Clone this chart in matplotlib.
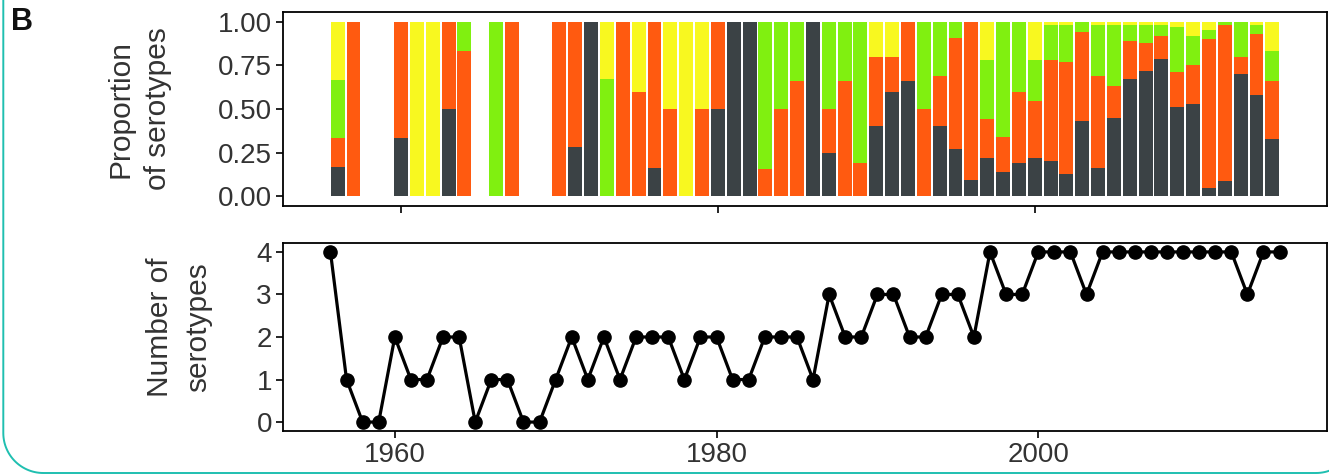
import matplotlib
matplotlib.use("Agg")
import matplotlib.pyplot as plt
from matplotlib.lines import Line2D
import numpy as np

plt.rcParams['font.family'] = ['Liberation Sans', 'DejaVu Sans']

years = list(range(1956, 2016))

# proportions per year: dark (bottom), orange, green, yellow (top)
dark = [1/6, 0, 0, 0, 1/3, 0, 0, 0.5, 0, 0,
        0, 0, 0, 0, 0, 0.28, 1, 0, 0, 0,
        0.16, 0, 0, 0, 0.5, 1, 1, 0, 0, 0,
        1, 0.25, 0, 0, 0.4, 0.6, 0.66, 0, 0.4, 0.27,
        0.095, 0.22, 0.14, 0.19, 0.22, 0.20, 0.13, 0.43, 0.16, 0.45,
        0.67, 0.72, 0.785, 0.51, 0.53, 0.05, 0.09, 0.70, 0.58, 0.33]
orange = [1/6, 1, 0, 0, 2/3, 0, 0, 0.5, 0.83, 0,
          0, 1, 0, 0, 1, 0.72, 0, 0, 1, 0.6,
          0.84, 0.5, 0, 0.5, 0.5, 0, 0, 0.155, 0.5, 0.66,
          0, 0.25, 0.66, 0.19, 0.4, 0.2, 0.34, 0.5, 0.29, 0.635,
          0.905, 0.22, 0.2, 0.41, 0.325, 0.58, 0.64, 0.51, 0.53, 0.18,
          0.22, 0.155, 0.135, 0.20, 0.22, 0.85, 0.89, 0.095, 0.35, 0.33]
green = [1/3, 0, 0, 0, 0, 0, 0, 0, 0.17, 0,
         1, 0, 0, 0, 0, 0, 0, 0.67, 0, 0,
         0, 0, 0, 0, 0, 0, 0, 0.845, 0.5, 0.34,
         0, 0.5, 0.34, 0.81, 0, 0, 0, 0.5, 0.31, 0.095,
         0, 0.34, 0.66, 0.4, 0.235, 0.20, 0.21, 0.06, 0.29, 0.35,
         0.09, 0.105, 0.06, 0.26, 0.17, 0.05, 0.02, 0.2, 0.05, 0.17]
yellow = [1/3, 0, 0, 0, 0, 1, 1, 0, 0, 0,
          0, 0, 0, 0, 0, 0, 0, 0.33, 0, 0.4,
          0, 0.5, 1, 0.5, 0, 0, 0, 0, 0, 0,
          0, 0, 0, 0, 0.2, 0.2, 0, 0, 0, 0,
          0, 0.22, 0, 0, 0.22, 0.02, 0.02, 0, 0.02, 0.02,
          0.02, 0.02, 0.02, 0.03, 0.08, 0.05, 0, 0.005, 0.02, 0.17]

n_serotypes = [4, 1, 0, 0, 2, 1, 1, 2, 2, 0,
               1, 1, 0, 0, 1, 2, 1, 2, 1, 2,
               2, 2, 1, 2, 2, 1, 1, 2, 2, 2,
               1, 3, 2, 2, 3, 3, 2, 2, 3, 3,
               2, 4, 3, 3, 4, 4, 4, 3, 4, 4,
               4, 4, 4, 4, 4, 4, 4, 3, 4, 4]

colors = ['#3b4245', '#ff5a10', '#80f010', '#f8f820']
series = [dark, orange, green, yellow]

W, H = 1329, 476
fig = plt.figure(figsize=(W / 100, H / 100), dpi=100)

def ax_rect(l, t, r, b):
    return [l / W, 1 - b / H, (r - l) / W, (b - t) / H]

ax1 = fig.add_axes(ax_rect(283, 12, 1327, 206))
ax2 = fig.add_axes(ax_rect(283, 243, 1327, 431))

yrs = np.array(years)
bottom = np.zeros(len(years))
for vals, c in zip(series, colors):
    v = np.array(vals)
    ax1.bar(yrs, v, width=0.88, bottom=bottom, color=c, linewidth=0)
    bottom += v

ax1.set_xlim(1952.55, 2018.45)
ax1.set_ylim(-0.055, 1.055)
ax1.set_yticks([0, 0.25, 0.5, 0.75, 1.0])
ax1.set_yticklabels(['0.00', '0.25', '0.50', '0.75', '1.00'])
ax1.set_xticks([1960, 1980, 2000])
ax1.set_xticklabels([])

ax2.plot(yrs, n_serotypes, color='black', linewidth=2.3, marker='o',
         markersize=9.5, markerfacecolor='black', markeredgecolor='black')
ax2.set_xlim(1953.05, 2017.95)
ax2.set_ylim(-0.21, 4.21)
ax2.set_yticks([0, 1, 2, 3, 4])
ax2.set_xticks([1960, 1980, 2000])

for ax in (ax1, ax2):
    for s in ax.spines.values():
        s.set_linewidth(1.3)
        s.set_color('black')
    ax.tick_params(axis='both', length=5, width=1.2, labelsize=20,
                   labelcolor='#333333', pad=3, direction='out')

ax1.set_ylabel('Proportion\nof serotypes', fontsize=21.5, color='#333333',
               linespacing=1.45)
ax1.yaxis.set_label_coords(-(283 - 172) / (1327 - 283), 0.5)
ax2.set_ylabel('Number of\nserotypes', fontsize=21.5, color='#333333',
               linespacing=1.45)
ax2.yaxis.set_label_coords(-(283 - 212) / (1327 - 283), 0.55)

fig.text(22 / W, 1 - 22 / H, 'B', fontsize=22, fontweight='bold',
         ha='center', va='center', color='#111111')

# rounded teal frame (pixel coordinates, origin top-left)
r = 40.0
xl, yb, xr = 3.3, 473.0, 1356.0
t = np.linspace(0, np.pi / 2, 30)
px = [xl, xl]
py = [-5, yb - r]
px += list(xl + r - r * np.cos(t))
py += list(yb - r + r * np.sin(t))
px += list(xr - r + r * np.sin(t))
py += list(yb - r * (1 - np.cos(t)))
px = np.array(px)
py = np.array(py)
fig.add_artist(Line2D(px / W, 1 - py / H, transform=fig.transFigure,
                      color='#1fbfb0', linewidth=1.4))

fig.savefig('out.png', dpi=100)
